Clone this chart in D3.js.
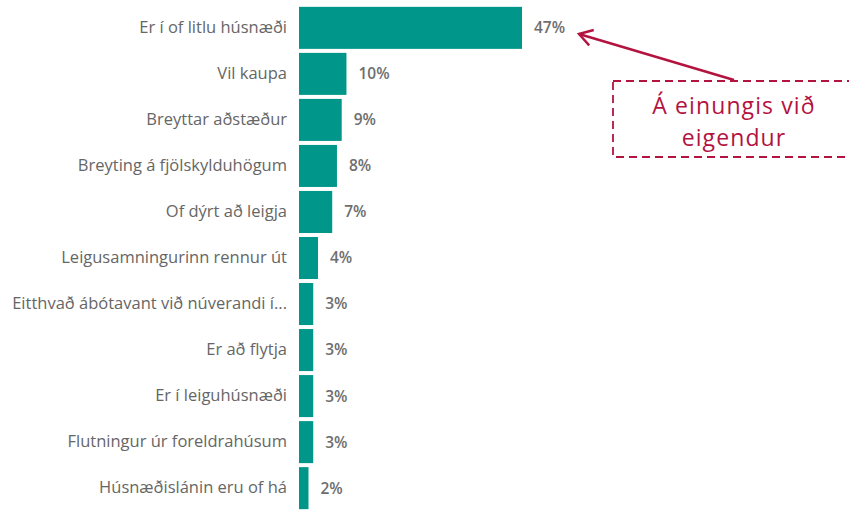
<!DOCTYPE html>
<html>
<head>
<meta charset="utf-8">
<script src="https://cdn.jsdelivr.net/npm/d3@7"></script>
<style>
  html, body { margin: 0; padding: 0; background: #fff; }
  svg { display: block; }
</style>
</head>
<body>
<svg id="chart" width="849" height="511"></svg>
<script>
// Reasons given (share of respondents)
const categories = [
  "Er í of litlu húsnæði",
  "Vil kaupa",
  "Breyttar aðstæður",
  "Breyting á fjölskylduhögum",
  "Of dýrt að leigja",
  "Leigusamningurinn rennur út",
  "Eitthvað ábótavant við núverandi í...",
  "Er að flytja",
  "Er í leiguhúsnæði",
  "Flutningur úr foreldrahúsum",
  "Húsnæðislánin eru of há"
];
const values = [47, 10, 9, 8, 7, 4, 3, 3, 3, 3, 2];
const valueLabels = ["47%", "10%", "9%", "8%", "7%", "4%", "3%", "3%", "3%", "3%", "2%"];
const noteLines = ["Á einungis við", "eigendur"];

const svg = d3.select("#chart");
const font = "'Open Sans', 'Segoe UI', sans-serif";

const x0 = 299;
const x = d3.scaleLinear().domain([0, 47]).range([x0, 522]);
const y = d3.scaleBand()
  .domain(categories)
  .range([5, 5 + 46 * categories.length])
  .paddingInner(0.087)
  .paddingOuter(0.04);

// bars
svg.append("g").selectAll("rect")
  .data(values)
  .join("rect")
  .attr("x", x0)
  .attr("y", (d, i) => y(categories[i]))
  .attr("width", d => x(d) - x0)
  .attr("height", y.bandwidth())
  .attr("fill", "#00968A");

// category axis
const axis = svg.append("g")
  .attr("transform", `translate(${x0},0)`)
  .call(d3.axisLeft(y).tickSize(0).tickPadding(12));
axis.select(".domain").remove();
axis.selectAll("text")
  .attr("font-family", font)
  .attr("font-size", 16.5)
  .attr("fill", "#666666");

// value labels
svg.append("g").selectAll("text")
  .data(values)
  .join("text")
  .attr("x", d => x(d) + 12)
  .attr("y", (d, i) => y(categories[i]) + y.bandwidth() / 2)
  .attr("dy", "0.35em")
  .attr("font-family", font)
  .attr("font-size", 15.5)
  .attr("font-weight", 600)
  .attr("fill", "#6E6E6E")
  .text((d, i) => valueLabels[i]);

// annotation: arrow pointing at the largest bar's label, and a dashed note box
const red = "#B3133F";
const defs = svg.append("defs");
defs.append("marker")
  .attr("id", "arrow")
  .attr("viewBox", "0 0 20 20")
  .attr("refX", 18).attr("refY", 10)
  .attr("markerWidth", 20).attr("markerHeight", 20)
  .attr("markerUnits", "userSpaceOnUse")
  .attr("orient", "auto")
  .append("path")
  .attr("d", "M5,2 L18,10 L5,18")
  .attr("fill", "none")
  .attr("stroke", red)
  .attr("stroke-width", 2.4)
  .attr("stroke-linejoin", "miter");

svg.append("line")
  .attr("x1", 734).attr("y1", 80)
  .attr("x2", 579).attr("y2", 34)
  .attr("stroke", red)
  .attr("stroke-width", 2.4)
  .attr("marker-end", "url(#arrow)");

svg.append("rect")
  .attr("x", 613).attr("y", 81)
  .attr("width", 260).attr("height", 76)
  .attr("fill", "#fff")
  .attr("stroke", red)
  .attr("stroke-width", 1.8)
  .attr("stroke-dasharray", "8,5");

// two-line note
svg.append("g").selectAll("text")
  .data(noteLines)
  .join("text")
  .attr("x", 734)
  .attr("y", (d, i) => 114 + i * 31.5)
  .attr("text-anchor", "middle")
  .attr("font-family", font)
  .attr("font-size", 23)
  .attr("letter-spacing", 1.1)
  .attr("fill", red)
  .text(d => d);
</script>
</body>
</html>
